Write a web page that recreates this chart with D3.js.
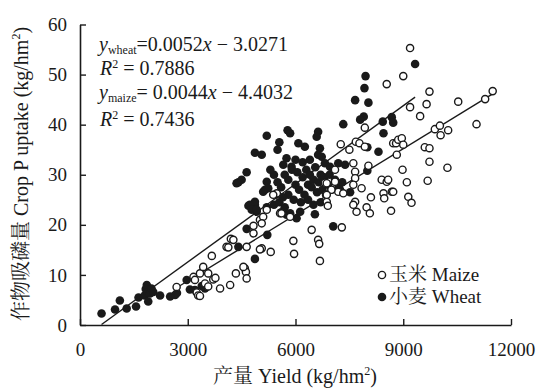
<!DOCTYPE html>
<html>
<head>
<meta charset="utf-8">
<script src="https://cdn.jsdelivr.net/npm/d3@7"></script>
<style>
  body { margin: 0; background: #fff; }
  svg { display: block; }
  text { font-family: "Liberation Serif", "Times New Roman", "Noto Serif CJK SC", "Noto Sans CJK SC", serif; fill: #1a1a1a; }
</style>
</head>
<body>
<svg id="chart"></svg>
<script>
// yield (kg/hm2), P uptake (kg/hm2)
const maize = [
  [2690,7.6],[3160,9.6],[3200,9.0],[3250,6.5],[3290,5.9],[3340,10.3],[3340,5.8],[3430,11.6],[3480,8.3],
  [3570,7.7],[3570,10.3],[3670,13.8],[3710,9.1],[3770,9.4],[3900,7.3],[4180,8.0],[4340,10.3],[4080,15.6],
  [4200,17.2],[4270,17.0],[4130,15.5],[4590,11.3],[4620,10.6],[4640,9.3],[4550,11.6],[4640,15.6],[4830,18.3],
  [4830,19.8],[5060,15.3],[5010,21.0],[5100,21.6],[5060,20.3],[5200,23.0],[5480,26.3],[5570,22.3],[5010,15.1],
  [5310,14.6],[5940,16.8],[5960,14.2],[6630,17.0],[6660,16.2],[6680,12.8],[6450,19.0],[7290,19.5],[5380,26.0],
  [5610,22.3],[5850,21.6],
  [7930,39.4],[7680,36.6],[7780,36.3],[7260,36.1],[7500,35.0],[7610,32.3],[8030,31.8],[7660,30.6],[7660,29.3],
  [7100,28.6],[6820,28.4],[8540,48.1],[8400,29.0],[8540,28.6],[8680,26.6],[8450,26.3],[8470,25.3],[8100,25.5],
  [7980,23.5],[8070,22.3],[8660,22.8],[7660,24.6],[7610,24.0],[7700,22.6],[6870,24.6],[6900,23.8],[7190,26.6],
  [7330,26.3],[7930,35.6],[8720,36.3],[7100,31.0],[6870,28.3],[7000,27.0],[6870,26.0],[7610,28.0],[7840,27.3],
  [9190,55.3],[9000,49.7],[9730,46.6],[9190,43.5],[9650,44.1],[9470,41.7],[10530,44.6],[11280,45.1],[11490,46.7],
  [11040,40.1],[9880,39.1],[10020,39.8],[10250,38.9],[10040,37.9],[9600,35.5],[9730,35.3],[9730,32.6],[10230,31.4],
  [9680,28.8],[8980,31.0],[9100,28.5],[8720,26.6],[9140,25.6],[9230,24.4],[8800,36.3],[8860,37.0],[8960,37.3],
  [9000,36.0],[8820,34.0],[8580,29.0]
];

const wheat = [
  [600,2.3],[975,3.1],[1110,4.9],[1300,3.3],[1560,3.7],[1630,5.5],[1800,5.9],[1830,7.2],[1860,8.0],[1880,6.5],
  [1900,4.7],[1950,6.3],[1990,7.3],[2040,6.6],[2230,5.9],[2510,5.7],[2650,6.0],[2700,6.4],[2970,9.0],[3060,7.1],
  [3200,7.0],[3390,7.8],[3480,7.3],
  [4410,15.6],[4870,13.2],[4640,19.2],[4690,23.8],[4870,24.0],[4920,22.6],[4360,28.3],[4410,28.5],[4500,29.0],
  [4640,30.5],[5150,27.0],[5200,28.6],[5240,27.3],[5100,26.6],[4870,24.6],[4730,24.0],[4780,23.0],[4920,23.0],
  [5200,23.5],[5400,24.0],[5550,24.5],[5600,22.5],[5700,23.5],[5750,22.0],[5215,18.0],
  [5200,37.8],[5780,38.9],[5850,38.3],[5550,36.5],[4870,34.4],[5060,34.0],[5500,35.0],[5750,33.3],[5890,31.6],
  [6080,36.3],[6260,35.6],[6630,38.6],[6590,37.6],[6680,35.3],[6630,34.0],[6730,33.6],[6820,32.3],[7190,32.3],
  [7380,32.0],[6960,31.6],[5660,32.0],
  [7950,49.7],[7920,47.3],[7660,44.9],[8030,44.4],[7900,41.6],[7800,41.0],[7330,40.1],[8680,41.5],[8720,40.4],
  [8430,40.6],[8450,38.3],[8000,35.5],[8310,34.6],[8000,30.8],[7520,26.5],[9330,52.1],[7050,19.7],[6540,22.1],
  [5850,22.3],[6030,21.3],[6130,22.6],
  [5700,30.0],[5800,29.0],[5900,31.0],[6000,28.0],[6050,30.5],[6100,27.0],[6200,29.5],[6250,26.0],[6300,31.0],
  [6350,28.0],[6400,30.0],[6450,27.5],[6500,29.0],[6550,31.5],[6600,26.5],[6650,28.5],[6700,30.0],[6750,27.0],
  [6800,29.5],[6850,26.0],[6900,28.0],[6950,30.0],[7000,27.0],[7100,29.0],[7200,27.5],[7300,28.5],[5800,26.0],
  [5950,25.0],[6150,24.5],[6350,25.0],[6500,24.0],[6700,24.5],[5600,27.5],[5500,28.5],[5400,30.0],[5300,31.0],
  [6000,33.0],[6200,32.5],[6400,33.0],[5650,25.5],[5450,26.0],[7240,27.0]
];

// slope, intercept
const wheatFit = [0.0052, -3.0271];
const maizeFit = [0.0044, -4.4032];
const r2 = [0.7886, 0.7436];

const xTicks = [0, 3000, 6000, 9000, 12000];
const yTicks = [0, 10, 20, 30, 40, 50, 60];

const width = 539, height = 390;
const svg = d3.select('#chart').attr('width', width).attr('height', height);

const x = d3.scaleLinear().domain([0, 12000]).range([80, 511]);
const y = d3.scaleLinear().domain([0, 60]).range([325, 24.5]);

const xAxis = svg.append('g')
  .attr('transform', `translate(0,${y(0)})`)
  .call(d3.axisBottom(x).tickValues(xTicks).tickFormat(d3.format('d'))
    .tickSizeInner(-6).tickSizeOuter(0).tickPadding(18));
const yAxis = svg.append('g')
  .attr('transform', `translate(${x(0)},0)`)
  .call(d3.axisLeft(y).tickValues(yTicks)
    .tickSizeInner(-6).tickSizeOuter(0).tickPadding(13));

[xAxis, yAxis].forEach(g => {
  g.select('.domain').attr('stroke', '#1a1a1a').attr('stroke-width', 1.6);
  g.selectAll('.tick line').attr('stroke', '#1a1a1a').attr('stroke-width', 1.4);
  g.selectAll('.tick text').attr('font-size', 19).attr('fill', '#1a1a1a')
    .style('font-family', '"Liberation Serif", serif');
});

// trend lines over each series' yield range
function fitLine(data, fit) {
  const ext = d3.extent(data, d => d[0]);
  const lo = Math.max(ext[0], -fit[1] / fit[0]);
  return [[lo, fit[0] * lo + fit[1]], [ext[1], fit[0] * ext[1] + fit[1]]];
}
const line = d3.line().x(d => x(d[0])).y(d => y(d[1]));
[[wheat, wheatFit], [maize, maizeFit]].forEach(([data, fit]) => {
  svg.append('path')
    .attr('d', line(fitLine(data, fit)))
    .attr('fill', 'none')
    .attr('stroke', '#1a1a1a')
    .attr('stroke-width', 1.4);
});

svg.append('g').selectAll('circle')
  .data(wheat)
  .enter().append('circle')
  .attr('cx', d => x(d[0]))
  .attr('cy', d => y(d[1]))
  .attr('r', 4.3)
  .attr('fill', '#1a1a1a');

svg.append('g').selectAll('circle')
  .data(maize)
  .enter().append('circle')
  .attr('cx', d => x(d[0]))
  .attr('cy', d => y(d[1]))
  .attr('r', 3.6)
  .attr('fill', '#fff')
  .attr('stroke', '#1a1a1a')
  .attr('stroke-width', 1.4);

// equations
function fitText(ypos, sub, fit, sep) {
  const t = svg.append('text').attr('x', 99).attr('y', ypos).attr('font-size', 20);
  t.append('tspan').attr('font-style', 'italic').text('y');
  t.append('tspan').attr('font-size', 12).attr('dy', 3).text(sub);
  t.append('tspan').attr('dy', -3).text('=' + sep + fit[0].toFixed(4));
  t.append('tspan').attr('font-style', 'italic').text('x');
  t.append('tspan').text(' \u2212 ' + Math.abs(fit[1]).toFixed(4));
}
function r2Text(ypos, val) {
  const t = svg.append('text').attr('x', 100).attr('y', ypos).attr('font-size', 20);
  t.append('tspan').attr('font-style', 'italic').text('R');
  t.append('tspan').attr('font-size', 12).attr('dy', -7).text('2');
  t.append('tspan').attr('dy', 7).text(' = ' + val.toFixed(4));
}
fitText(51, 'wheat', wheatFit, '');
r2Text(75, r2[0]);
fitText(99, 'maize', maizeFit, ' ');
r2Text(126, r2[1]);

// legend
const legend = svg.append('g');
legend.append('circle').attr('cx', 382).attr('cy', 275).attr('r', 3.6)
  .attr('fill', '#fff').attr('stroke', '#1a1a1a').attr('stroke-width', 1.4);
legend.append('text').attr('x', 389).attr('y', 281).attr('font-size', 19).text('玉米 Maize');
legend.append('circle').attr('cx', 382).attr('cy', 297).attr('r', 4.3).attr('fill', '#1a1a1a');
legend.append('text').attr('x', 389).attr('y', 303).attr('font-size', 19).text('小麦 Wheat');

// axis titles
const xt = svg.append('text').attr('x', 295).attr('y', 383).attr('text-anchor', 'middle').attr('font-size', 20);
xt.append('tspan').text('产量 Yield (kg/hm');
xt.append('tspan').attr('font-size', 12).attr('dy', -8).text('2');
xt.append('tspan').attr('dy', 8).text(')');

const yt = svg.append('text').attr('transform', 'translate(28,174) rotate(-90)')
  .attr('text-anchor', 'middle').attr('font-size', 20);
yt.append('tspan').text('作物吸磷量 Crop P uptake (kg/hm');
yt.append('tspan').attr('font-size', 12).attr('dy', -8).text('2');
yt.append('tspan').attr('dy', 8).text(')');
</script>
</body>
</html>
